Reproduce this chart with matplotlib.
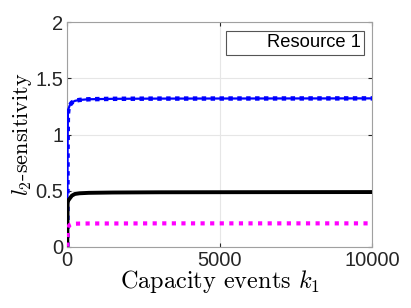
import matplotlib.pyplot as plt
from matplotlib.lines import Line2D

# values
k = [0, 10, 20, 40, 80, 150, 250, 400, 700, 1500, 3000, 6000, 10000]
blue = [0.0, 0.9, 1.18, 1.23, 1.26, 1.285, 1.30, 1.308, 1.314, 1.318, 1.32, 1.321, 1.322]
black = [0.0, 0.38, 0.41, 0.415, 0.43, 0.455, 0.47, 0.476, 0.48, 0.483, 0.485, 0.486, 0.487]
magenta = [0.0, 0.1, 0.15, 0.18, 0.195, 0.203, 0.205, 0.206, 0.207, 0.207, 0.208, 0.208, 0.208]

xticks = [0, 5000, 10000]
yticks = [0, 0.5, 1, 1.5, 2]
ytick_labels = ["0", "0.5", "1", "1.5", "2"]

plt.rcParams["font.family"] = ["Liberation Sans", "DejaVu Sans"]
plt.rcParams["mathtext.fontset"] = "cm"

fig = plt.figure(figsize=(4.11, 3.08), dpi=100)
ax = fig.add_axes([67.3 / 411, 1 - 246.7 / 308, 305 / 411, 224.4 / 308])

ax.plot(k, blue, color="blue", lw=1.6, zorder=3)
ax.plot(k, blue, color="blue", lw=3.2, ls=(0, (1, 1)), zorder=3)
ax.plot(k, black, color="black", lw=2.8, zorder=4)
ax.plot(k, magenta, color="magenta", lw=3.0, ls=(0, (1, 1.3)), zorder=5)

ax.set_xlim(0, 10000)
ax.set_ylim(0, 2)
ax.set_xticks(xticks)
ax.set_yticks(yticks)
ax.set_yticklabels(ytick_labels)
ax.tick_params(direction="in", length=3, labelsize=14.5, colors="#262626",
               top=True, right=True, pad=3)
ax.grid(True, color="#e6e6e6", lw=0.8)
ax.set_axisbelow(True)
for s in ax.spines.values():
    s.set_color("#a0a0a0")
    s.set_linewidth(0.8)

ax.set_xlabel("Capacity events $k_1$", family="cmr10", fontsize=17.5,
              math_fontfamily="cm", labelpad=-1)
ax.set_ylabel("$l_2$-sensitivity", family="cmr10", fontsize=16,
              math_fontfamily="cm", labelpad=1)

handle = Line2D([], [], color="none")
leg = ax.legend([handle], ["Resource 1"], loc="upper right", fontsize=13.2,
                fancybox=False, edgecolor="#555555", framealpha=1,
                handlelength=1.6, handletextpad=0.4, borderaxespad=0.45,
                borderpad=0.2)
leg.get_frame().set_linewidth(0.8)

fig.savefig("out.png", dpi=100)
